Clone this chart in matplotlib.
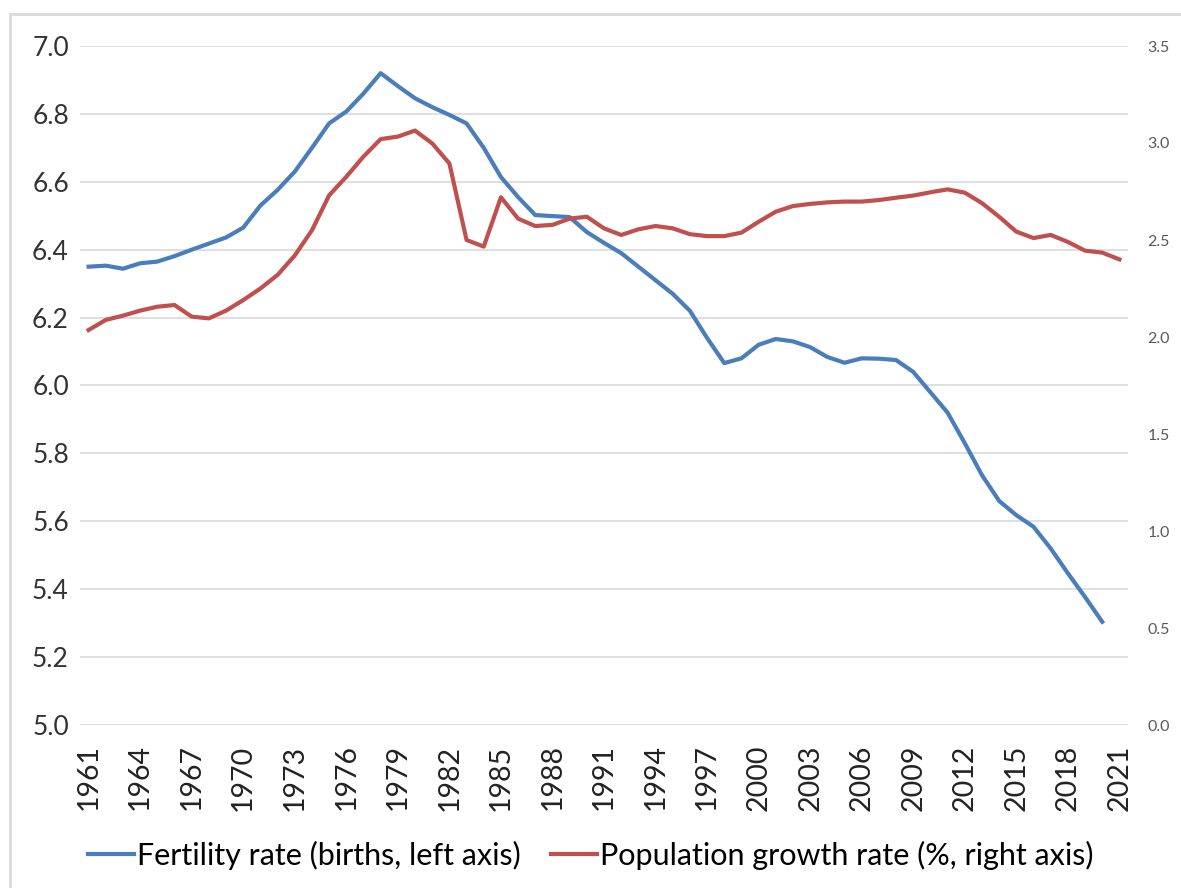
import matplotlib.pyplot as plt
from matplotlib.lines import Line2D
from matplotlib.patches import Rectangle

years = list(range(1961, 2022))

fertility = [
    6.35, 6.353, 6.344, 6.36, 6.365, 6.381, 6.40, 6.418, 6.436, 6.465,
    6.53, 6.576, 6.63, 6.70, 6.772, 6.807, 6.86, 6.92, 6.882, 6.846,
    6.82, 6.797, 6.772, 6.70, 6.614, 6.555, 6.502, 6.499, 6.496, 6.452,
    6.42, 6.39, 6.35, 6.31, 6.27, 6.22, 6.14, 6.066, 6.08, 6.12,
    6.137, 6.13, 6.113, 6.084, 6.067, 6.08, 6.079, 6.075, 6.04, 5.98,
    5.92, 5.83, 5.736, 5.66, 5.618, 5.584, 5.52, 5.447, 5.377, 5.304,
]

growth = [
    2.036, 2.088, 2.11, 2.136, 2.156, 2.165, 2.105, 2.096, 2.136, 2.19,
    2.25, 2.32, 2.42, 2.55, 2.73, 2.826, 2.93, 3.02, 3.033, 3.064,
    2.998, 2.895, 2.50, 2.466, 2.72, 2.61, 2.572, 2.578, 2.61, 2.62,
    2.56, 2.526, 2.555, 2.572, 2.56, 2.53, 2.52, 2.52, 2.538, 2.594,
    2.646, 2.675, 2.686, 2.694, 2.698, 2.698, 2.706, 2.718, 2.729, 2.746,
    2.761, 2.744, 2.69, 2.62, 2.543, 2.51, 2.526, 2.49, 2.445, 2.435,
    2.40,
]

left_ticks = [5.0, 5.2, 5.4, 5.6, 5.8, 6.0, 6.2, 6.4, 6.6, 6.8, 7.0]
right_ticks = [0.0, 0.5, 1.0, 1.5, 2.0, 2.5, 3.0, 3.5]

blue = "#4a7ebb"
red = "#c0504d"

plt.rcParams["font.family"] = ["Lato", "DejaVu Sans"]

fig = plt.figure(figsize=(11.81, 8.88), dpi=100)
ax = fig.add_axes([80 / 1181, 1 - 725 / 888, (1128 - 80) / 1181, (725 - 46) / 888])
ax2 = ax.twinx()

x = list(range(len(years)))
ax.plot(x[:len(fertility)], fertility, color=blue, lw=3, solid_joinstyle="round")
ax2.plot(x[:len(growth)], growth, color=red, lw=3, solid_joinstyle="round")

ax.set_xlim(-0.5, len(years) - 0.5)
ax.set_ylim(5.0, 7.0)
ax2.set_ylim(0.0, 3.5)

ax.set_yticks(left_ticks)
ax.set_yticklabels([f"{v:.1f}" for v in left_ticks], fontsize=19, color="#333333")
ax2.set_yticks(right_ticks)
ax2.set_yticklabels([f"{v:.1f}" for v in right_ticks], fontsize=11.5, color="#595959")

ax.set_xticks(x[::3])
ax.set_xticklabels([str(y) for y in years[::3]], rotation=90, fontsize=20.5, color="#222222")

ax.grid(axis="y", color="#d9d9d9", lw=1.2)
ax.set_axisbelow(True)
for a in (ax, ax2):
    for s in a.spines.values():
        s.set_visible(False)
ax.tick_params(axis="y", length=0, pad=8)
ax.tick_params(axis="x", length=0, pad=14)
ax2.tick_params(axis="y", length=0, pad=14)

handles = [
    Line2D([], [], color=blue, lw=3),
    Line2D([], [], color=red, lw=3),
]
fig.legend(handles, ["Fertility rate (births, left axis)", "Population growth rate (%, right axis)"],
           loc="center", bbox_to_anchor=(0.5, 1 - 855 / 888), ncol=2, frameon=False,
           fontsize=22, handlelength=1.5, handletextpad=0.1, columnspacing=1.0)

# outer chart border
fig.patches.append(Rectangle((10 / 1181, -0.01), 1.02, 1 - 14 / 888 + 0.01, transform=fig.transFigure,
                             fill=False, edgecolor="#d9d9d9", lw=2))

fig.savefig("out.png", dpi=100)
